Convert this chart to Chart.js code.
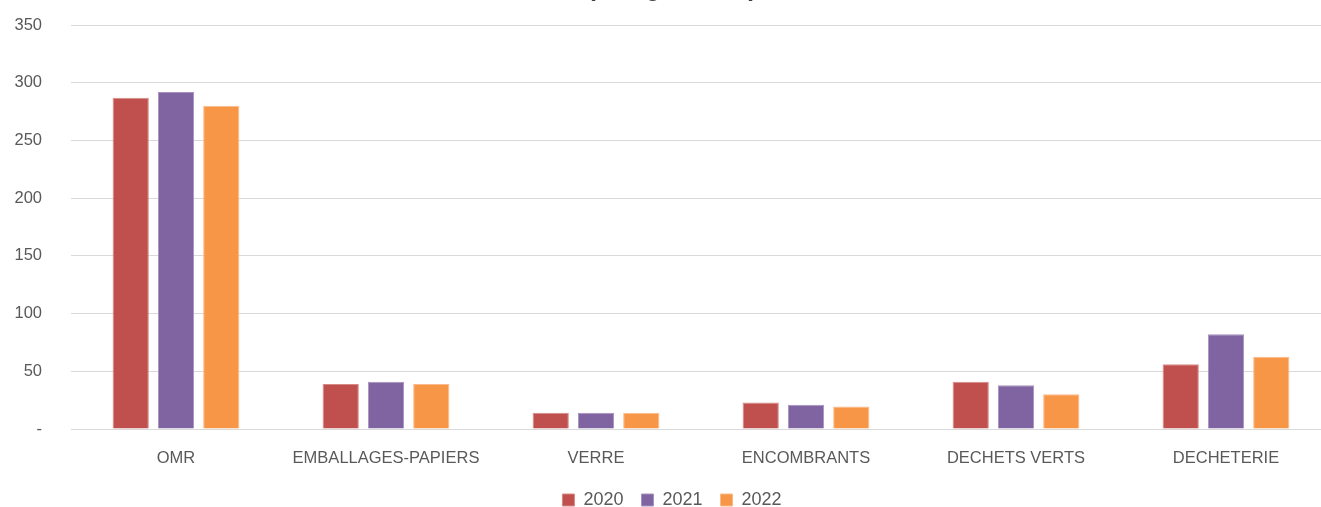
<!DOCTYPE html>
<html>
<head>
<meta charset="utf-8">
<script src="https://cdn.jsdelivr.net/npm/chart.js@4"></script>
<style>
  html, body { margin: 0; padding: 0; background: #ffffff; overflow: hidden; width: 1321px; height: 507px; }
  #wrap { position: absolute; left: 0; top: -36px; width: 1331px; height: 555px; }
</style>
</head>
<body>
<div id="wrap"><canvas id="c"></canvas></div>
<script>
const categories = ["OMR", "EMBALLAGES-PAPIERS", "VERRE", "ENCOMBRANTS", "DECHETS VERTS", "DECHETERIE"];
const seriesNames = ["2020", "2021", "2022"];
const values2020 = [287, 39, 14, 23, 41, 56];
const values2021 = [292, 41, 14, 21, 38, 82];
const values2022 = [280, 39, 14, 19.5, 30, 62.5];
const yTicks = [0, 50, 100, 150, 200, 250, 300, 350];
const colors = ["#C0504D", "#8064A2", "#F79646"];
const borderColors = ["#D68A88", "#A692BF", "#FAB98A"];
const titleText = "(en kg/hab/an)";

const seriesValues = [values2020, values2021, values2022];
const datasets = seriesNames.map((name, i) => ({
  label: name,
  data: seriesValues[i],
  backgroundColor: colors[i],
  borderColor: borderColors[i],
  borderWidth: 1,
  categoryPercentage: 0.647,
  barPercentage: 0.8
}));

new Chart(document.getElementById("c"), {
  type: "bar",
  data: { labels: categories, datasets },
  options: {
    responsive: true,
    maintainAspectRatio: false,
    animation: false,
    layout: { padding: { left: 13, right: 0, top: 0, bottom: 0 } },
    plugins: {
      title: {
        display: true,
        text: titleText,
        color: "#404040",
        font: { family: "Liberation Sans", size: 25, weight: "bold" },
        padding: { top: 10, bottom: 21 }
      },
      legend: {
        position: "bottom",
        labels: {
          color: "#595959",
          font: { family: "Liberation Sans", size: 18 },
          boxWidth: 12,
          boxHeight: 12,
          padding: 18
        }
      },
      tooltip: { enabled: false }
    },
    scales: {
      x: {
        grid: { display: false, drawTicks: false },
        border: { display: false },
        afterFit: (scale) => { scale.height = 44; },
        ticks: {
          color: "#595959",
          font: { family: "Liberation Sans", size: 16.5 },
          padding: 20,
          maxRotation: 0,
          autoSkip: false
        }
      },
      y: {
        min: 0,
        max: 350,
        afterBuildTicks: (axis) => { axis.ticks = yTicks.map(v => ({ value: v })); },
        afterFit: (scale) => { scale.width = 58; },
        grid: { color: "#D9D9D9", lineWidth: 1, drawTicks: false },
        border: { display: false },
        ticks: {
          color: "#595959",
          font: { family: "Liberation Sans", size: 16.5 },
          padding: 29,
          callback: (v) => (v === 0 ? "-" : v)
        }
      }
    }
  }
});
</script>
</body>
</html>
